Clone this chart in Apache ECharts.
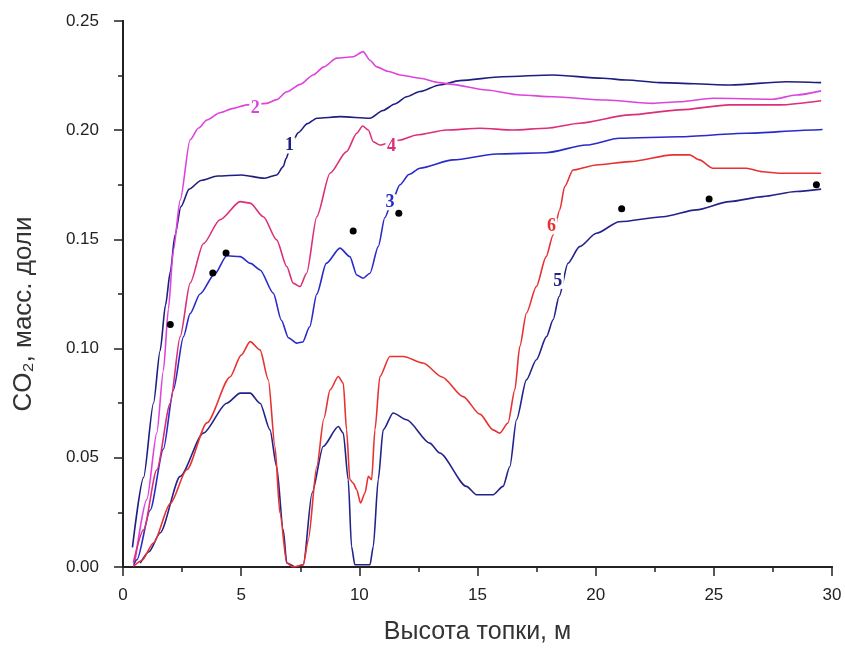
<!DOCTYPE html>
<html>
<head>
<meta charset="utf-8">
<script src="https://cdn.jsdelivr.net/npm/echarts@6/dist/echarts.min.js"></script>
<style>
  html, body { margin: 0; padding: 0; background: #fff; }
  #chart { width: 845px; height: 650px; }
</style>
</head>
<body>
<div id="chart"></div>
<script>
// кривые CO2 по высоте топки, [x, y]
const curve1 = [[0.4,0.009],[0.87,0.041],[1.29,0.075],[1.57,0.099],[1.8,0.12],[2.0,0.135],[2.2,0.152],[2.45,0.165],[2.8,0.173],[3.3,0.177],[4.0,0.179],[5.0,0.1795],[6.0,0.178],[6.5,0.1795],[6.78,0.1833],[6.9,0.187],[7.1,0.193],[7.42,0.1989],[7.8,0.203],[8.2,0.2055],[9.2,0.2062],[10.45,0.2055],[11.0,0.209],[11.5,0.212],[12.0,0.2153],[12.56,0.2177],[13.4,0.2207],[14.25,0.2227],[16.07,0.2245],[18.2,0.2253],[20.3,0.2238],[21.3,0.223],[22.7,0.2218],[25.7,0.2207],[28.06,0.2222],[29.54,0.2218]];
const curve2 = [[0.5,0.002],[1.01,0.031],[1.43,0.0613],[1.71,0.09],[1.92,0.118],[2.13,0.145],[2.42,0.168],[2.84,0.1956],[3.2,0.201],[3.55,0.2047],[4.1,0.208],[4.67,0.21],[5.24,0.2116],[6.08,0.2123],[6.5,0.214],[6.93,0.2176],[7.5,0.221],[8.05,0.2253],[8.5,0.229],[9.04,0.233],[9.74,0.2336],[10.16,0.236],[10.45,0.232],[10.73,0.229],[11.2,0.227],[11.72,0.2253],[12.56,0.2238],[13.4,0.2218],[13.83,0.2211],[15.38,0.2184],[16.79,0.2161],[18.2,0.2153],[20.45,0.2138],[22.42,0.2123],[23.55,0.213],[24.96,0.2146],[27.5,0.2142],[28.48,0.2161],[29.54,0.218]];
const curve3 = [[0.45,0.001],[0.59,0.0033],[1.15,0.026],[1.71,0.054],[2.13,0.081],[2.56,0.1055],[2.84,0.116],[3.26,0.125],[3.87,0.134],[4.39,0.1425],[4.96,0.1421],[5.4,0.139],[5.8,0.136],[6.36,0.1254],[6.7,0.113],[7.0,0.105],[7.35,0.1025],[7.6,0.103],[7.9,0.11],[8.2,0.125],[8.6,0.139],[9.18,0.146],[9.6,0.1421],[9.89,0.1337],[10.16,0.1322],[10.45,0.1345],[10.8,0.1467],[11.08,0.16],[11.4,0.168],[11.72,0.175],[12.1,0.1797],[12.56,0.1826],[13.97,0.1864],[15.8,0.1891],[17.9,0.1897],[19.6,0.1932],[21.0,0.1963],[23.55,0.197],[26.37,0.1986],[29.18,0.2001],[29.6,0.2003]];
const curve4 = [[0.44,0.002],[0.87,0.017],[1.43,0.0445],[2.0,0.075],[2.42,0.1055],[2.84,0.13],[3.4,0.148],[4.1,0.159],[4.96,0.1673],[5.38,0.1666],[5.94,0.1604],[6.5,0.1498],[6.93,0.1376],[7.2,0.13],[7.49,0.1284],[7.77,0.1345],[8.2,0.1604],[8.76,0.1803],[9.46,0.1902],[9.89,0.1986],[10.14,0.2019],[10.38,0.2001],[10.59,0.1947],[10.87,0.1932],[11.2,0.194],[11.72,0.1955],[12.42,0.1978],[13.69,0.2001],[15.1,0.2009],[16.5,0.2001],[17.92,0.2009],[19.32,0.2032],[21.44,0.207],[23.55,0.2093],[25.66,0.2116],[27.8,0.2116],[29.54,0.2135]];
const curve5 = [[0.73,0.0018],[1.1,0.007],[1.57,0.0156],[2.42,0.0415],[3.4,0.0613],[4.39,0.075],[4.96,0.0796],[5.38,0.0796],[5.8,0.075],[6.22,0.0628],[6.5,0.046],[6.78,0.017],[6.93,0.0018],[7.3,0.0],[7.63,0.001],[8.0,0.0339],[8.47,0.0552],[9.11,0.0643],[9.32,0.0613],[9.53,0.04],[9.67,0.0094],[9.81,0.001],[10.45,0.001],[10.59,0.0094],[10.8,0.04],[11.01,0.0628],[11.43,0.0705],[12.0,0.0674],[12.98,0.0567],[13.4,0.0522],[14.53,0.0369],[14.96,0.0331],[15.66,0.0331],[16.08,0.0369],[16.37,0.046],[16.65,0.0674],[17.07,0.0857],[17.49,0.0949],[17.92,0.1055],[18.2,0.1132],[18.45,0.1238],[18.83,0.1391],[19.32,0.1467],[20.03,0.1528],[21.0,0.1581],[22.85,0.1604],[24.26,0.1635],[25.66,0.1673],[27.07,0.1696],[28.48,0.1719],[29.54,0.173]];
const curve6 = [[0.44,0.0003],[0.8,0.003],[1.29,0.011],[2.0,0.029],[2.7,0.0445],[3.55,0.066],[4.53,0.087],[5.0,0.097],[5.38,0.1032],[5.8,0.0994],[6.15,0.0857],[6.43,0.0552],[6.64,0.0247],[6.93,0.0018],[7.2,0.0],[7.63,0.001],[7.84,0.0125],[8.2,0.046],[8.5,0.068],[8.76,0.0811],[9.11,0.0872],[9.32,0.0842],[9.46,0.0628],[9.6,0.04],[9.74,0.0384],[9.89,0.0354],[10.05,0.0293],[10.24,0.0339],[10.38,0.0415],[10.52,0.04],[10.66,0.0628],[10.87,0.0872],[11.29,0.0964],[11.86,0.0964],[12.7,0.0934],[13.5,0.087],[14.39,0.078],[15.1,0.07],[15.66,0.0628],[15.94,0.0613],[16.29,0.0659],[16.58,0.0811],[16.79,0.101],[17.07,0.1162],[17.49,0.1284],[17.9,0.142],[18.2,0.152],[18.48,0.1636],[18.69,0.1742],[19.04,0.1818],[20.03,0.1841],[21.44,0.1856],[23.27,0.1887],[23.97,0.1887],[24.39,0.1864],[24.96,0.1826],[26.37,0.1826],[27.07,0.181],[27.78,0.1803],[29.54,0.1803]];
// экспериментальные точки
const dots = [[2.0,0.111],[3.8,0.1346],[4.36,0.1438],[9.74,0.1539],[11.67,0.162],[21.1,0.164],[24.8,0.1685],[29.34,0.175]];
// номера кривых
const curveLabels = [[7.05,0.193,'1'],[5.6,0.21,'2'],[11.3,0.167,'3'],[11.36,0.1925,'4'],[18.4,0.131,'5'],[18.13,0.156,'6']];
const xTicks = [0, 5, 10, 15, 20, 25, 30];
const yTicks = [0, 0.05, 0.10, 0.15, 0.20, 0.25];

const curves = [curve1, curve2, curve3, curve4, curve5, curve6];
const colors = ['#1e1e80', '#dd44dd', '#2a2ac8', '#dc2f78', '#22228a', '#e83232'];

const chart = echarts.init(document.getElementById('chart'));

const font = 'Liberation Sans';
const axisLine = { lineStyle: { color: '#222', width: 2 } };
const tickStyle = { color: '#222', width: 1.5 };

const lineSeries = curves.map((c, i) => ({
  type: 'line',
  data: c,
  symbol: 'none',
  smooth: 0.25,
  smoothMonotone: 'x',
  lineStyle: { color: colors[i], width: 1.6 },
  z: 2
}));

chart.setOption({
  animation: false,
  backgroundColor: '#fff',
  grid: { left: 123, right: 13, top: 21, bottom: 83 },
  xAxis: [{
    type: 'value', min: xTicks[0], max: xTicks[xTicks.length - 1], interval: 5,
    name: 'Высота топки, м', nameLocation: 'middle', nameGap: 53,
    nameTextStyle: { fontFamily: font, fontSize: 25, color: '#333' },
    axisLine: axisLine,
    axisTick: { inside: false, length: 9, lineStyle: tickStyle },
    minorTick: { show: true, splitNumber: 2, length: 5, lineStyle: tickStyle },
    axisLabel: { fontFamily: font, fontSize: 17, color: '#222', margin: 20 },
    splitLine: { show: false }
  }, {
    type: 'value', position: 'top', min: 0, max: 30, interval: 5,
    axisLine: axisLine,
    axisTick: { inside: true, length: 9, lineStyle: tickStyle },
    minorTick: { show: true, splitNumber: 2, length: 5, lineStyle: tickStyle },
    axisLabel: { show: false },
    splitLine: { show: false }
  }],
  yAxis: [{
    type: 'value', min: yTicks[0], max: yTicks[yTicks.length - 1], interval: 0.05,
    name: 'CO₂, масс. доли', nameLocation: 'middle', nameGap: 86, nameRotate: 90,
    nameTextStyle: { fontFamily: font, fontSize: 26, color: '#333', padding: [0, 40, 0, 0] },
    axisLine: axisLine,
    axisTick: { inside: false, length: 9, lineStyle: tickStyle },
    minorTick: { show: true, splitNumber: 2, length: 5, lineStyle: tickStyle },
    axisLabel: { fontFamily: font, fontSize: 17, color: '#222', margin: 24, formatter: v => v.toFixed(2) },
    splitLine: { show: false }
  }, {
    type: 'value', position: 'right', min: 0, max: 0.25, interval: 0.05,
    axisLine: axisLine,
    axisTick: { inside: true, length: 9, lineStyle: tickStyle },
    minorTick: { show: true, splitNumber: 2, length: 5, lineStyle: tickStyle },
    axisLabel: { show: false },
    splitLine: { show: false }
  }],
  series: lineSeries.concat([{
    type: 'scatter',
    data: dots,
    symbol: 'circle',
    symbolSize: 7,
    itemStyle: { color: '#000', opacity: 1 },
    z: 4
  }, {
    type: 'scatter',
    data: curveLabels.map(l => ({
      value: l,
      label: { color: colors[Number(l[2]) - 1] }
    })),
    symbol: 'rect',
    symbolSize: [12, 16],
    itemStyle: { color: '#fff', opacity: 1 },
    label: {
      show: true, position: 'inside',
      formatter: p => p.data.value[2],
      fontFamily: 'Liberation Serif', fontWeight: 'bold', fontSize: 18,
      textBorderWidth: 0
    },
    z: 5
  }])
});
</script>
</body>
</html>
